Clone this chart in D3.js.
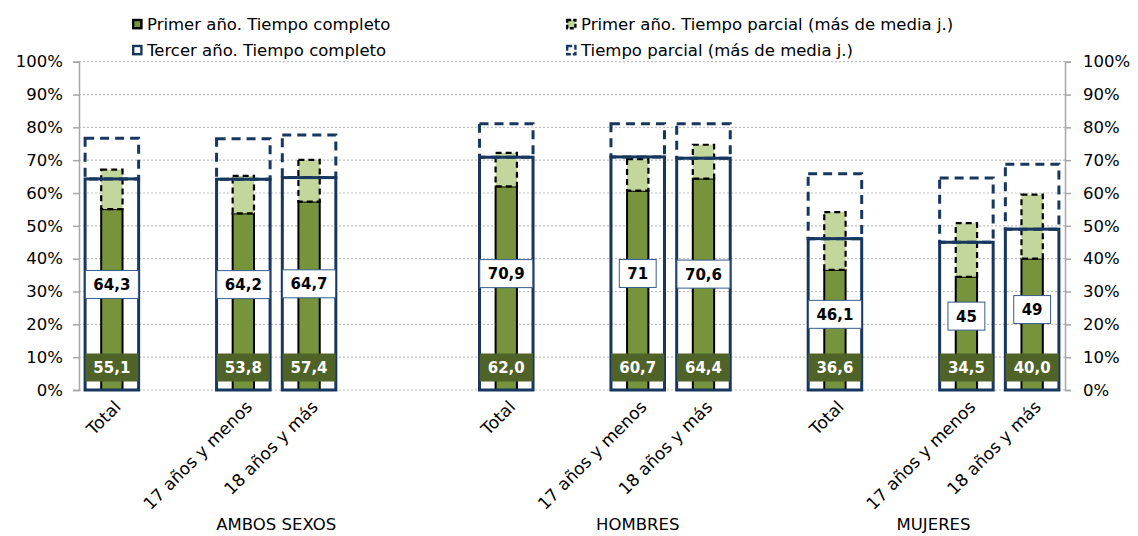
<!DOCTYPE html>
<html>
<head>
<meta charset="utf-8">
<script src="https://cdn.jsdelivr.net/npm/d3@7"></script>
<style>
  html, body { margin: 0; padding: 0; background: #fff; }
  svg { display: block; }
  text { font-family: "DejaVu Sans", sans-serif; fill: #000; }
</style>
</head>
<body>
<svg id="chart" width="1138" height="536"></svg>
<script>
// Slots along the category axis (blank slots separate the groups)
const categories = ["Total", "", "17 años y menos", "18 años y más", "", "",
                    "Total", "", "17 años y menos", "18 años y más", "",
                    "Total", "", "17 años y menos", "18 años y más"];
const groupNames = ["AMBOS SEXOS", "HOMBRES", "MUJERES"];
const groupFirst = [0, 6, 11];
const groupLast  = [5, 10, 14];

// Primer año (green bars)
const primerCompleto = [55.1, null, 53.8, 57.4, null, null, 62.0, null, 60.7, 64.4, null, 36.6, null, 34.5, 40.0];
const primerParcial  = [12.0, null, 11.4, 12.7, null, null, 10.2, null, 9.6, 10.3, null, 17.6, null, 16.3, 19.5];
// Tercer año (blue outlined boxes)
const tercerCompleto = [64.3, null, 64.2, 64.7, null, null, 70.9, null, 71, 70.6, null, 46.1, null, 45, 49];
const tercerParcial  = [12.4, null, 12.3, 13.0, null, null, 10.2, null, 10.1, 10.5, null, 19.8, null, 19.6, 19.8];

const yTicks = [0, 10, 20, 30, 40, 50, 60, 70, 80, 90, 100];
const legendLabels = ["Primer año. Tiempo completo", "Primer año. Tiempo parcial (más de media j.)",
                      "Tercer año. Tiempo completo", "Tiempo parcial (más de media j.)"];

const C = {
  green: "#77933C", olive: "#4F6228", light: "#C3D69B",
  navy: "#17375E", grid: "#BFBFBF", axis: "#A6A6A6"
};

const svg = d3.select("#chart");
const plotLeft = 79, plotRight = 1065, plotTop = 61.7, plotBottom = 390;

const x = d3.scaleBand().domain(d3.range(categories.length)).range([plotLeft, plotRight]).padding(0);
const y = d3.scaleLinear().domain([0, 100]).range([plotBottom, plotTop]);
const bw = x.bandwidth();
const outerW = bw * 0.86, innerW = bw * 0.355;
const cx = i => x(i) + bw / 2;
const fmt = v => String(v).replace(".", ",");
const fmt1 = v => v.toFixed(1).replace(".", ",");

// gridlines
svg.append("g").selectAll("line").data(yTicks).join("line")
  .attr("x1", plotLeft).attr("x2", plotRight)
  .attr("y1", d => y(d)).attr("y2", d => y(d))
  .attr("stroke", C.grid).attr("stroke-width", 1.2).attr("stroke-dasharray", "2,2");

// axes
const axL = svg.append("g").attr("transform", `translate(${plotLeft},0)`)
  .call(d3.axisLeft(y).tickValues(yTicks).tickSize(6).tickPadding(10).tickFormat(d => d + "%"));
const axR = svg.append("g").attr("transform", `translate(${plotRight},0)`)
  .call(d3.axisRight(y).tickValues(yTicks).tickSize(6).tickPadding(12).tickFormat(d => d + "%"));
[axL, axR].forEach(ax => {
  ax.select(".domain").attr("stroke", C.axis).attr("stroke-width", 1.5);
  ax.selectAll(".tick line").attr("stroke", C.axis).attr("stroke-width", 1.5);
  ax.selectAll(".tick text").attr("font-size", 16.5).attr("fill", "#000")
    .style("font-family", "'DejaVu Sans', sans-serif");
});

const idx = d3.range(categories.length).filter(i => primerCompleto[i] != null);

// Primer año: solid green + dashed light-green stack
svg.append("g").selectAll("rect").data(idx).join("rect")
  .attr("x", i => cx(i) - innerW / 2 + 1).attr("width", innerW - 2)
  .attr("y", i => y(primerCompleto[i])).attr("height", i => y(0) - y(primerCompleto[i]))
  .attr("fill", C.green).attr("stroke", "#000").attr("stroke-width", 2);
svg.append("g").selectAll("rect").data(idx).join("rect")
  .attr("x", i => cx(i) - innerW / 2 + 1).attr("width", innerW - 2)
  .attr("y", i => y(primerCompleto[i] + primerParcial[i]))
  .attr("height", i => y(primerCompleto[i]) - y(primerCompleto[i] + primerParcial[i]))
  .attr("fill", C.light).attr("stroke", "#000").attr("stroke-width", 2.2).attr("stroke-dasharray", "6,4");

// Tercer año: navy outlined box + dashed box on top
svg.append("g").selectAll("rect").data(idx).join("rect")
  .attr("x", i => cx(i) - outerW / 2 + 1.5).attr("width", outerW - 3)
  .attr("y", i => y(tercerCompleto[i] + tercerParcial[i]))
  .attr("height", i => y(tercerCompleto[i]) - y(tercerCompleto[i] + tercerParcial[i]))
  .attr("fill", "none").attr("stroke", C.navy).attr("stroke-width", 3).attr("stroke-dasharray", "9,6");
svg.append("g").selectAll("rect").data(idx).join("rect")
  .attr("x", i => cx(i) - outerW / 2 + 1.5).attr("width", outerW - 3)
  .attr("y", i => y(tercerCompleto[i])).attr("height", i => y(0) - y(tercerCompleto[i]))
  .attr("fill", "none").attr("stroke", C.navy).attr("stroke-width", 3);

// value labels
function boxLabel(g, i, text, yc, fill, stroke, color) {
  const t = g.append("text").attr("x", cx(i)).attr("y", yc).attr("dy", "0.36em")
    .attr("text-anchor", "middle").attr("font-size", 15).attr("font-weight", "bold")
    .style("fill", color).text(text);
  const w = t.node().getComputedTextLength() + 16, h = 28;
  g.insert("rect", "text").attr("x", cx(i) - w / 2).attr("y", yc - h / 2)
    .attr("width", w).attr("height", h).attr("fill", fill)
    .attr("stroke", stroke || "none").attr("stroke-width", 1);
}
const lab = svg.append("g");
idx.forEach(i => {
  boxLabel(lab.append("g"), i, fmt1(primerCompleto[i]), y(0) - 22.5, C.olive, null, "#fff");
  boxLabel(lab.append("g"), i, fmt(tercerCompleto[i]), y(tercerCompleto[i] / 2), "#fff", "#385D8A", "#000");
});

// category labels (rotated)
svg.append("g").selectAll("text").data(idx).join("text")
  .attr("transform", i => `translate(${cx(i) + 10},${plotBottom + 18}) rotate(-45)`)
  .attr("text-anchor", "end").attr("font-size", 17).text(i => categories[i]);

// group labels
svg.append("g").selectAll("text").data(groupNames).join("text")
  .attr("x", (d, k) => (x(groupFirst[k]) + x(groupLast[k]) + bw) / 2)
  .attr("y", 530).attr("text-anchor", "middle").attr("font-size", 16.5).text(d => d);

// legend
const leg = svg.append("g");
const legX = [132, 566], legY = [24, 50];
const legItems = [
  { col: 0, row: 0, fill: C.green, stroke: "#000", dash: null },
  { col: 1, row: 0, fill: C.light, stroke: "#000", dash: "4,2" },
  { col: 0, row: 1, fill: "#fff", stroke: C.navy, dash: null },
  { col: 1, row: 1, fill: "#fff", stroke: C.navy, dash: "5,2" }
];
legItems.forEach((it, k) => {
  const lx = legX[it.col], ly = legY[it.row];
  leg.append("rect").attr("x", lx + 1.2).attr("y", ly - 4).attr("width", 8.2).attr("height", 8.2)
    .attr("fill", it.fill).attr("stroke", it.stroke).attr("stroke-width", 2.4)
    .attr("stroke-dasharray", it.dash);
  leg.append("text").attr("x", lx + 15).attr("y", ly).attr("dy", "0.36em")
    .attr("font-size", 16.5).text(legendLabels[k]);
});
</script>
</body>
</html>
